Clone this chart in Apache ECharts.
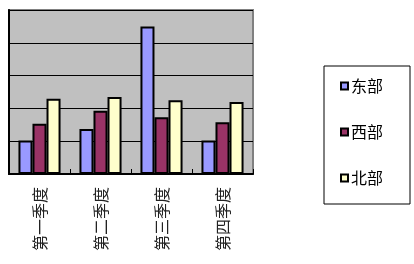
<!DOCTYPE html>
<html><head><meta charset="utf-8">
<script src="https://cdn.jsdelivr.net/npm/echarts@6/dist/echarts.min.js"></script>
<style>html,body{margin:0;padding:0;background:#fff}#c{width:414px;height:264px}</style>
</head><body><div id="c"></div>
<script>
const categories = ['第一季度', '第二季度', '第三季度', '第四季度'];
const seriesNames = ['东部', '西部', '北部'];
const east = [20.4, 27.4, 90, 20.4];
const west = [30.6, 38.6, 34.6, 31.6];
const north = [45.9, 46.9, 45, 43.9];
const colors = ['#9999FF', '#993366', '#FFFFCC'];
const font = '"Noto Sans CJK SC", sans-serif';

const chart = echarts.init(document.getElementById('c'));
const mk = (name, data, color) => ({
  name, type: 'bar', data,
  barGap: '0%', barCategoryGap: '31%',
  itemStyle: { color, borderColor: '#000', borderWidth: 2 }
});
chart.setOption({
  animation: false,
  grid: { left: 9, top: 10, right: 161, bottom: 90, show: true,
          backgroundColor: '#C0C0C0', borderColor: '#808080', borderWidth: 2 },
  xAxis: {
    type: 'category', data: categories,
    axisLine: { lineStyle: { color: '#000', width: 2 } },
    axisTick: { show: true, inside: true, length: 5, lineStyle: { color: '#000', width: 1 } },
    axisLabel: { rotate: 90, margin: 13, fontSize: 16, color: '#222', fontFamily: font }
  },
  yAxis: {
    type: 'value', min: 0, max: 100, interval: 20,
    axisLine: { show: true, lineStyle: { color: '#000', width: 2 } },
    axisTick: { show: false }, axisLabel: { show: false },
    splitLine: { lineStyle: { color: '#000', width: 1 } }
  },
  legend: {
    orient: 'vertical', left: 340, top: 78,
    itemWidth: 7, itemHeight: 7, itemGap: 30, padding: 0,
    icon: 'rect',
    textStyle: { fontSize: 16, lineHeight: 16, color: '#000', fontFamily: font, padding: [0,0,0,-2] },
    data: seriesNames
  },
  graphic: [{
    type: 'rect', left: 321.5, top: 63.5,
    shape: { width: 86, height: 138 },
    style: { fill: 'none', stroke: '#000', lineWidth: 1 }
  }],
  series: [mk(seriesNames[0], east, colors[0]), mk(seriesNames[1], west, colors[1]), mk(seriesNames[2], north, colors[2])]
});
</script></body></html>
